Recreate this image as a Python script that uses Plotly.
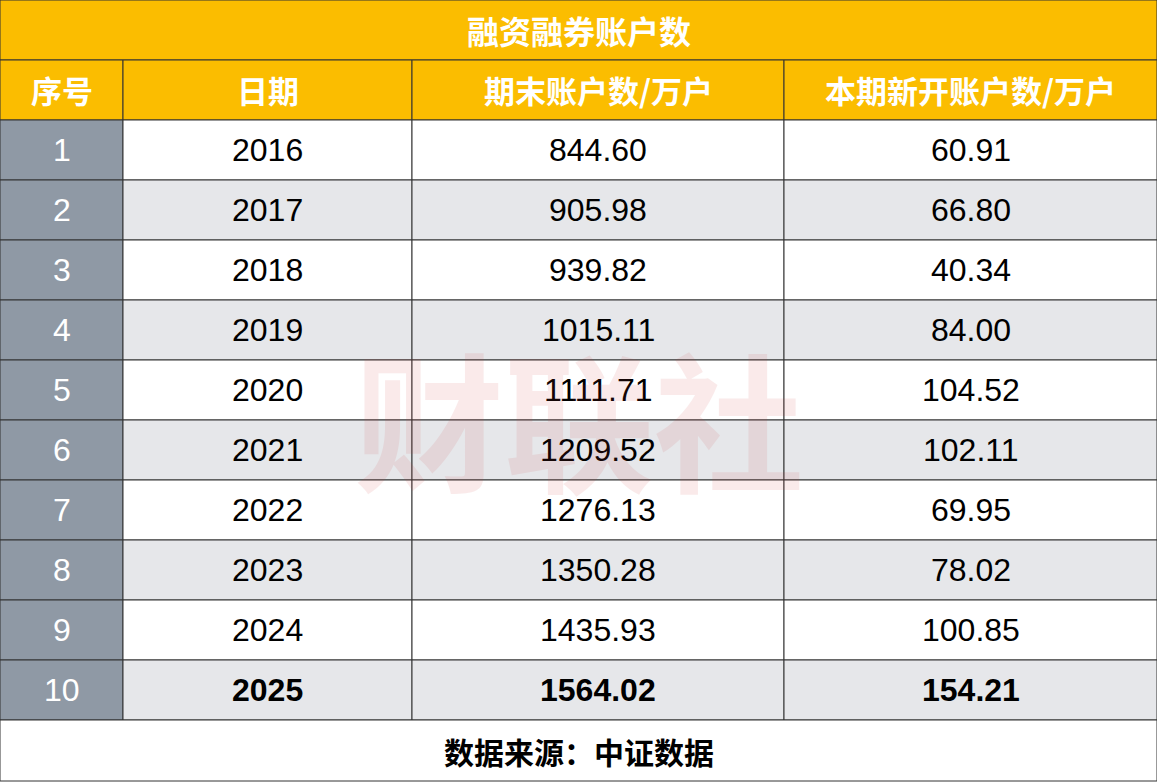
import plotly.graph_objects as go

title = "融资融券账户数"
headers = ["序号", "日期", "期末账户数/万户", "本期新开账户数/万户"]
idx = [str(i) for i in range(1, 11)]
years = ["2016", "2017", "2018", "2019", "2020", "2021", "2022", "2023", "2024", "2025"]
end_accounts = ["844.60", "905.98", "939.82", "1015.11", "1111.71", "1209.52",
                "1276.13", "1350.28", "1435.93", "1564.02"]
new_accounts = ["60.91", "66.80", "40.34", "84.00", "104.52", "102.11",
                "69.95", "78.02", "100.85", "154.21"]
source = "数据来源：中证数据"

W, H = 1157, 782
font = "Noto Sans CJK SC, Arial"
num_font = "Liberation Sans, Arial"
col_edges = [0, 123, 412, 784, 1157]
row_h = 60
line = dict(color="#333333", width=1)

def px(x):
    return x / W

def py(y):
    return 1 - y / H

shapes, annots = [], []

def cell(x0, x1, y0, y1, fill, text, color, size, bold=False, fam=font):
    shapes.append(dict(type="rect", xref="paper", yref="paper", x0=px(x0), x1=px(x1),
                       y0=py(y1), y1=py(y0), fillcolor=fill, line=line, layer="below"))
    if bold:
        text = "<b>" + text + "</b>"
    annots.append(dict(text=text, x=px((x0 + x1) / 2), y=py((y0 + y1) / 2),
                       xref="paper", yref="paper", showarrow=False,
                       xanchor="center", yanchor="middle",
                       font=dict(family=fam, size=size, color=color)))

# title row
cell(0, W, 0, 60, "#fbbd00", title, "white", 32, True)
# header row
for j, h in enumerate(headers):
    cell(col_edges[j], col_edges[j + 1], 60, 120, "#fbbd00", h, "white", 31, True)
# body rows
columns = [idx, years, end_accounts, new_accounts]
for i in range(10):
    y0 = 120 + i * row_h
    fill = "#ffffff" if i % 2 == 0 else "#e6e7ea"
    last = i == 9
    for j, col in enumerate(columns):
        if j == 0:
            cell(col_edges[0], col_edges[1], y0, y0 + row_h, "#8f99a5", col[i], "white", 32,
                 fam=num_font)
        else:
            cell(col_edges[j], col_edges[j + 1], y0, y0 + row_h, fill, col[i], "black", 32,
                 last, fam=num_font)
# footer
cell(0, W, 720, H - 1, "white", source, "black", 30, True)

# watermark
annots.append(dict(text="<b>财联社</b>", x=0.5, y=py(415), xref="paper", yref="paper",
                   showarrow=False, opacity=0.1, xanchor="center", yanchor="middle",
                   font=dict(family=font, size=150, color="#d04040")))

fig = go.Figure()
fig.update_layout(
    width=W, height=H,
    margin=dict(l=0, r=0, t=0, b=0),
    paper_bgcolor="white", plot_bgcolor="white",
    xaxis=dict(visible=False), yaxis=dict(visible=False),
    shapes=shapes, annotations=annots,
)

fig.write_html("out.html", config={"displayModeBar": False},
               post_script="document.body.style.margin='0';")
